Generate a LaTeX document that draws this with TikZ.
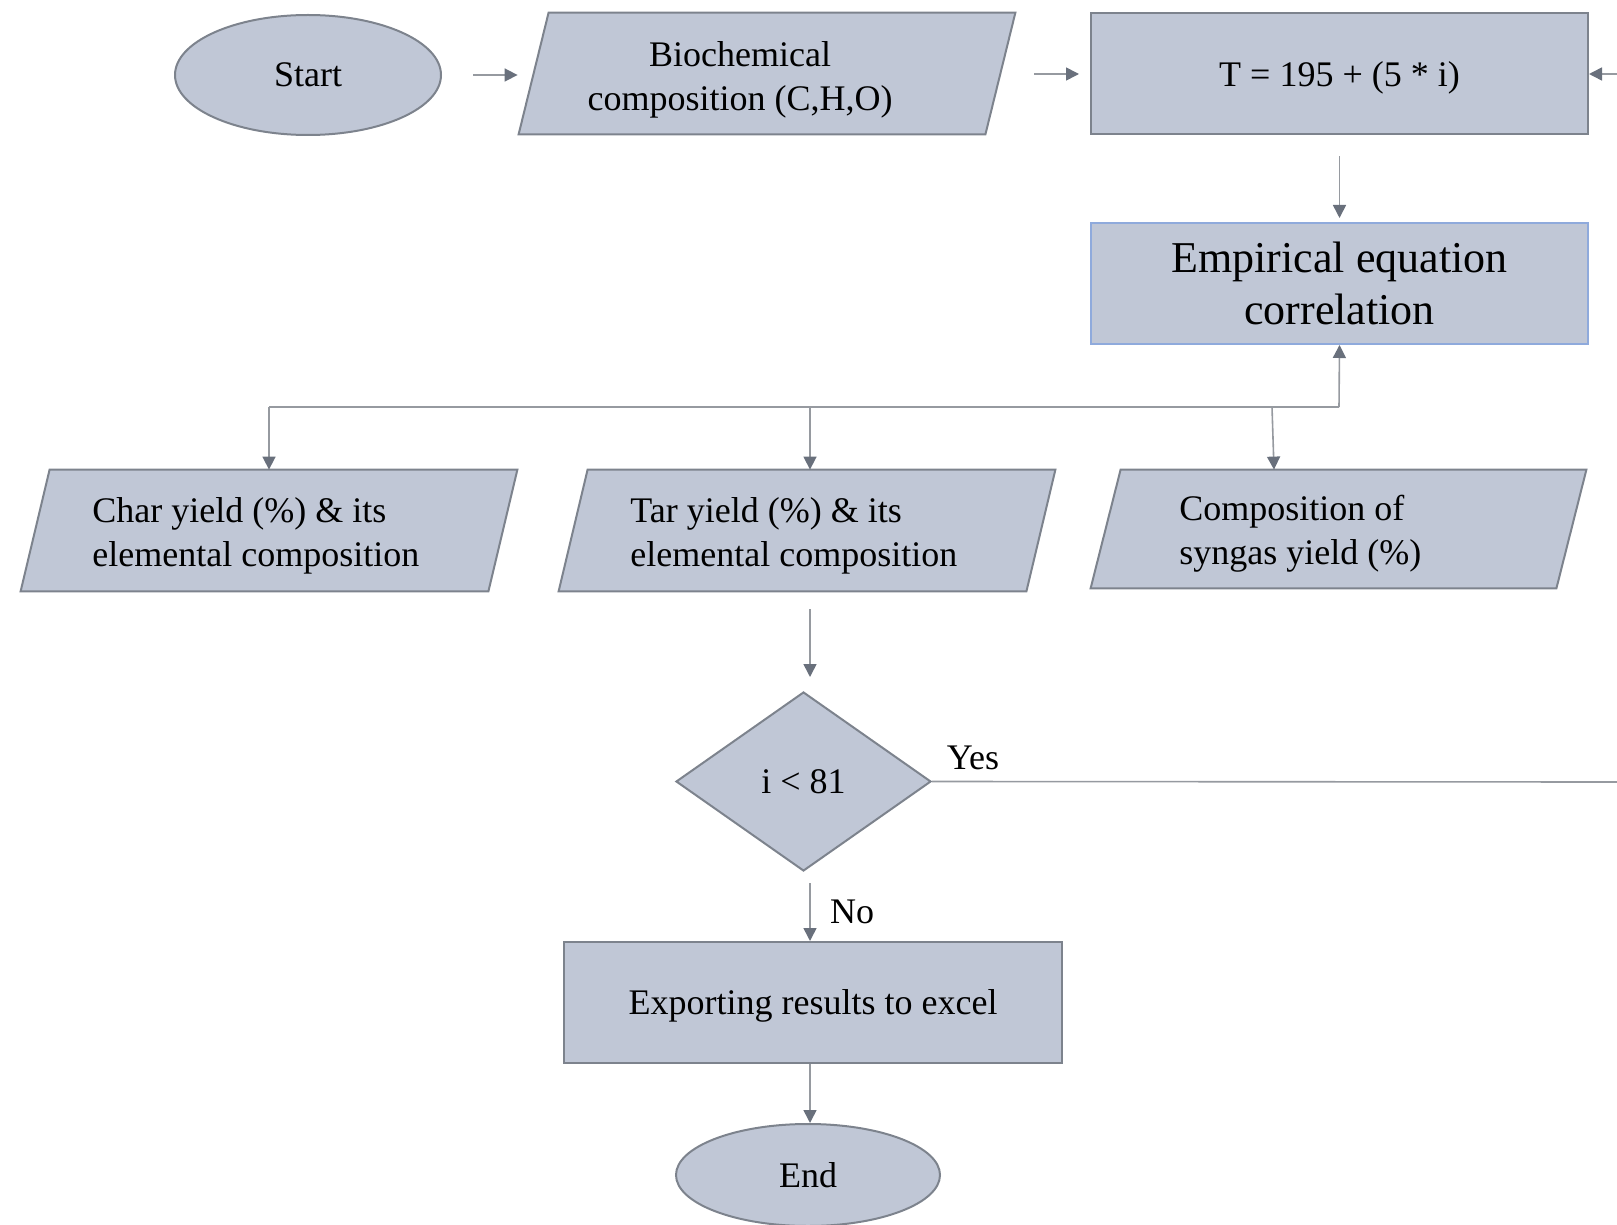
\documentclass[tikz,border=0pt]{standalone}
\usepackage{fontspec}
\setmainfont{Liberation Serif}
\usetikzlibrary{shapes.geometric,arrows.meta,calc}
\definecolor{boxfill}{RGB}{192,199,214}
\definecolor{boxline}{RGB}{125,131,141}
\definecolor{empline}{RGB}{143,170,220}
\definecolor{conn}{RGB}{150,154,160}
\definecolor{tipc}{RGB}{105,112,124}
\newcommand\parashape[2]{\draw[iobox] ([xshift=#2]#1.north west) -- (#1.north east) -- ([xshift=-#2]#1.south east) -- (#1.south west) -- cycle;}
\begin{document}
\begin{tikzpicture}[x=0.5pt,y=-0.5pt,
  base/.style={fill=boxfill, draw=boxline, line width=1pt, inner sep=0pt,
    font=\fontsize{18}{22}\selectfont, text=black},
  proc/.style={base, rectangle, minimum width=248.5pt, minimum height=60.5pt, align=center},
  io/.style={rectangle, inner sep=0pt, minimum width=248pt, minimum height=60.5pt},
  iobox/.style={fill=boxfill, draw=boxline, line width=1pt},
  term/.style={base, ellipse, minimum width=133pt, minimum height=60pt},
  decision/.style={base, diamond, aspect=1.42, minimum width=127.5pt, minimum height=89.5pt},
  arr/.style={draw=conn, line width=0.8pt, -{Triangle[length=6.5pt,width=6.5pt,fill=tipc,color=tipc]}},
  conline/.style={draw=conn, line width=0.8pt},
  lbl/.style={font=\fontsize{18}{22}\selectfont, inner sep=0pt, text=black}
]
\useasboundingbox (0,0) rectangle (1617,1225);

% nodes
\node[term] (start) at (308,75) {Start};
\node[io] (bio) at (767,73.5) {};
\parashape{bio}{15pt}
\node[lbl, align=center] (biot) at (740,80) {Biochemical\\composition (C,H,O)};
\node[proc, text depth=0pt] (T) at (1339.5,74) {T = 195 + (5 * i)};
\node[proc, draw=empline, font=\fontsize{22}{26}\selectfont] (emp) at (1339.5,283.5) {Empirical equation\\correlation};
\node[io] (char) at (269,530.5) {};
\parashape{char}{14.5pt}
\node[lbl, align=left, anchor=west] (chart) at (92,536) {Char yield (\%) \& its\\elemental composition};
\node[io] (tar) at (807,530.5) {};
\parashape{tar}{14.5pt}
\node[lbl, align=left, anchor=west] (tart) at (630,536) {Tar yield (\%) \& its\\elemental composition};
\node[io, minimum width=247.5pt, minimum height=59pt] (comp) at (1338.5,529) {};
\parashape{comp}{15pt}
\node[lbl, align=left, anchor=west] (compt) at (1179,534) {Composition of\\syngas yield (\%)};
\node[decision] (dia) at (803.5,781.5) {i < 81};
\node[proc, minimum width=249pt, text depth=0pt] (exp) at (813,1002.5) {Exporting results to excel};
\node[term, minimum width=132pt, minimum height=51pt] (end) at (808,1175) {End};

\coordinate (rin) at (1617,74);
\coordinate (j) at (1339,407);
\coordinate (cj) at (1272,407);
\coordinate (yend) at (1617,782);
\coordinate (mx) at (810,0);

% connectors
\draw[arr, shorten <=15.5pt, shorten >=0.5pt] (start.east) -- (start.east -| bio.south west);
\draw[arr, shorten <=9.5pt, shorten >=5.5pt] (bio.north east |- T.west) -- (T.west);
\draw[arr] (rin) -- (T.east);
\draw[arr, shorten <=10.5pt, shorten >=2pt] (T.south) -- (emp.north);
\draw[arr] (j) -- (emp.south);
\draw[conline] (j) -- (char.north |- j);
\draw[arr] (char.north |- j) -- (char.north);
\draw[arr] (mx |- j) -- (mx |- tar.north);
\draw[arr] (cj) -- ([xshift=1pt]cj |- comp.north);
\draw[arr, shorten <=9pt, shorten >=7pt] (mx |- tar.south) -- (mx |- dia.north);
\draw[conline] (dia.east) -- (yend);
\node[lbl] (yes) at (973,758) {Yes};
\draw[arr, shorten <=5.5pt] (mx |- dia.south) -- (mx |- exp.north);
\node[lbl] (no) at (852,912) {No};
\draw[arr] (mx |- exp.south) -- (mx |- end.north);
\end{tikzpicture}
\end{document}
